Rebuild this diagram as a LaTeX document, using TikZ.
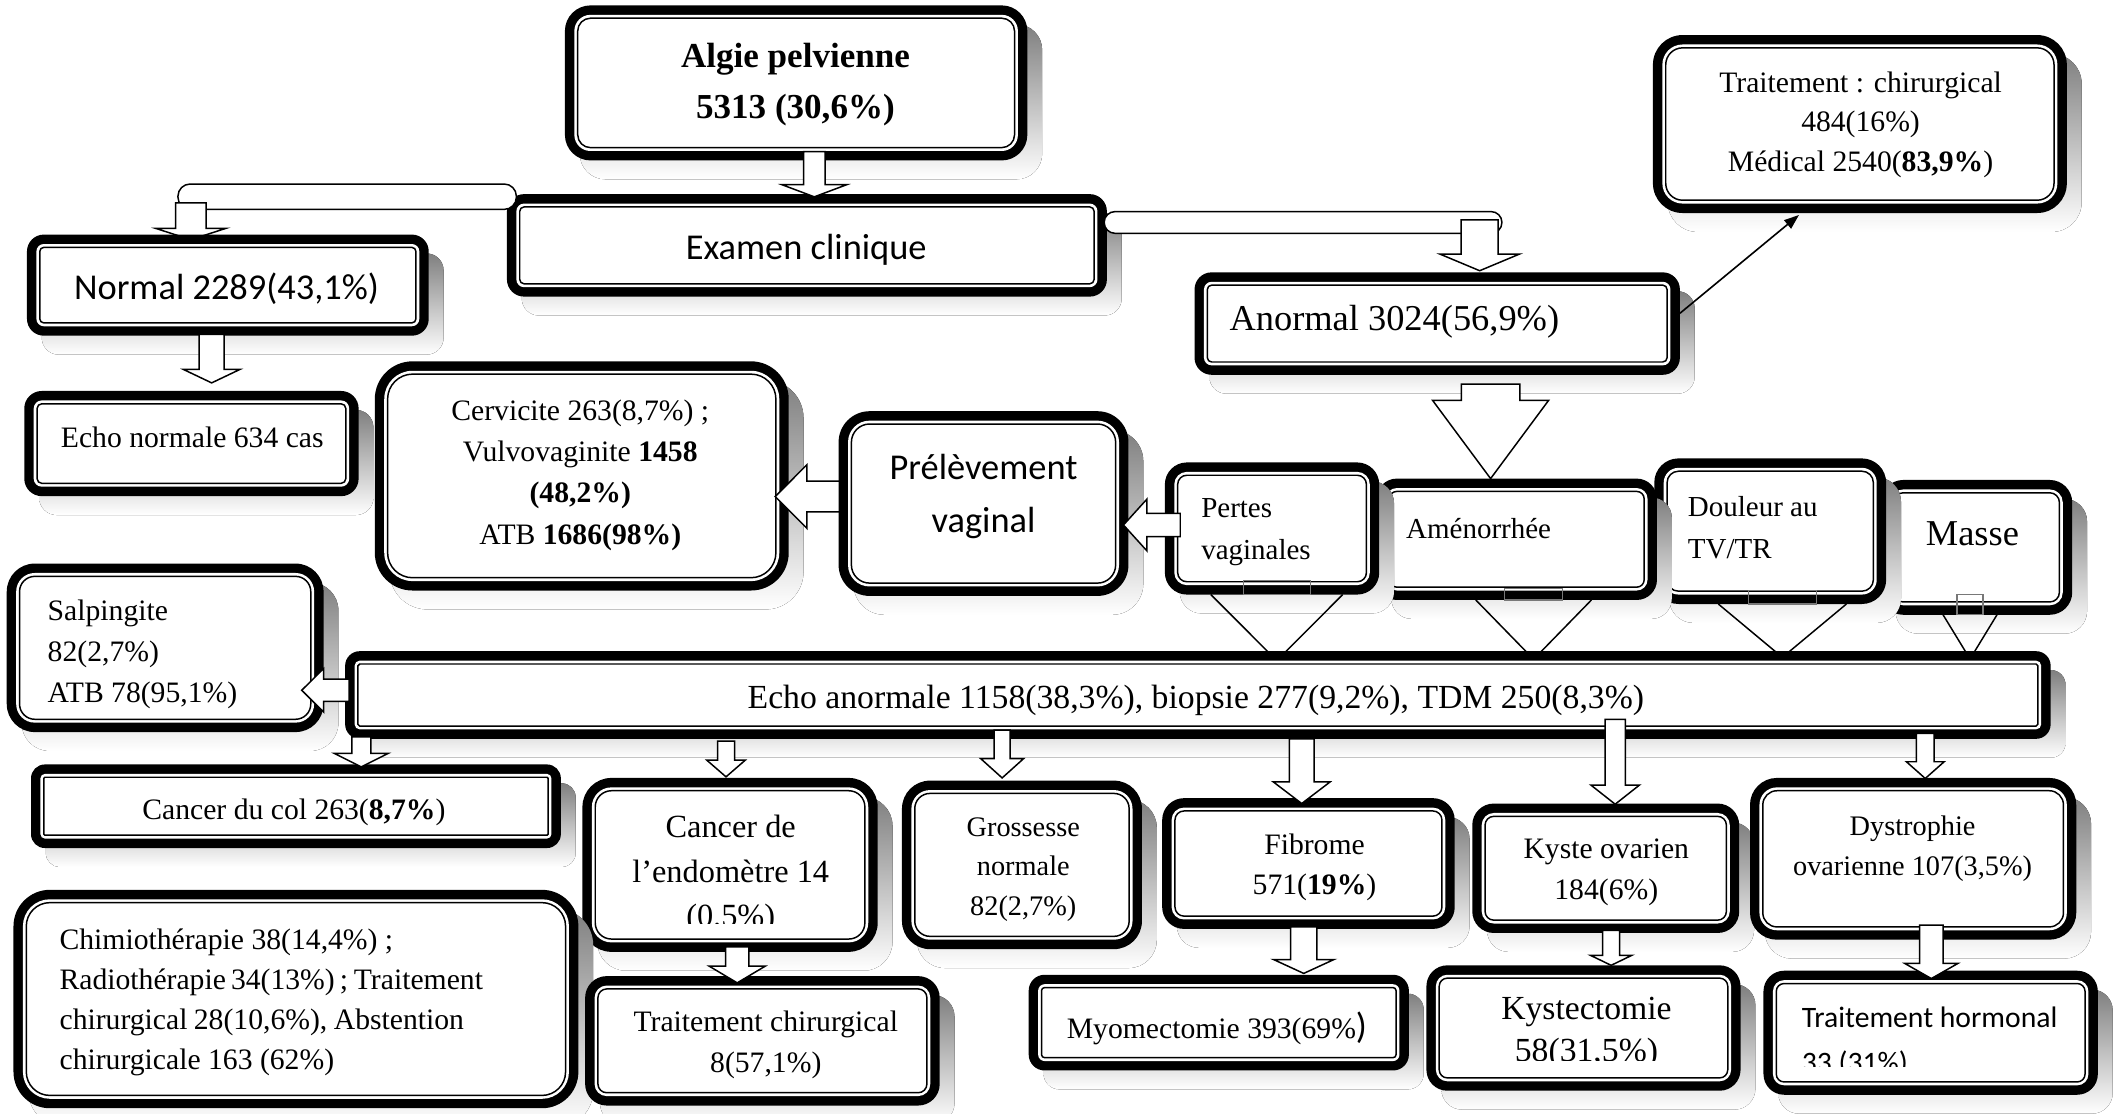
\documentclass[tikz,border=0pt]{standalone}
\usepackage{fontspec}
\setmainfont{Liberation Serif}
\newfontfamily\calib{Carlito}
\usetikzlibrary{calc,arrows.meta}
\definecolor{shade}{RGB}{192,192,192}
\definecolor{tabgray}{RGB}{120,120,120}

% font size helper
\newcommand{\setfs}[2]{\fontsize{#1}{#2}\selectfont}

% invisible node spanning a framed panel (x1,y1,x2,y2, y measured downwards)
\newcommand{\panelnode}[5]{%
  \pgfmathsetmacro{\pw}{#4-#2}%
  \pgfmathsetmacro{\ph}{#5-#3}%
  \node[panelnode, minimum width=\pw pt, minimum height=\ph pt] (#1) at ({(#2+#4)/2},{-(#3+#5)/2}) {};}

% shadow, thick outer frame, white gap and thin inner line of a panel
\newcommand{\paneldraw}[2]{%
  \pgfmathsetmacro{\rB}{max(#2-7,0.5)}%
  \pgfmathsetmacro{\rC}{max(#2-9.5,0.5)}%
  \fill[shade, rounded corners=#2pt] ([shift={(11pt,-14pt)}]#1.north west) rectangle ([shift={(11pt,-14pt)}]#1.south east);
  \fill[black, rounded corners=#2pt] (#1.north west) rectangle (#1.south east);
  \fill[white, rounded corners=\rB pt] ([shift={(7pt,-7pt)}]#1.north west) rectangle ([shift={(-7pt,7pt)}]#1.south east);
  \draw[line width=1.1pt, rounded corners=\rC pt] ([shift={(9.5pt,-9.5pt)}]#1.north west) rectangle ([shift={(-9.5pt,9.5pt)}]#1.south east);}

% downward block arrow: from, to, x centre, start above from.south, tip below to.north, head length, shaft half width, head half width
\newcommand{\dnarrow}[8]{%
  \draw[blk] let \p1=(#1.south), \p2=(#2.north) in
    ({#3-(#7)},{\y1+(#4)}) -- ({#3+(#7)},{\y1+(#4)}) -- ({#3+(#7)},{\y2-(#5)+(#6)}) -- ({#3+(#8)},{\y2-(#5)+(#6)})
    -- (#3,{\y2-(#5)}) -- ({#3-(#8)},{\y2-(#5)+(#6)}) -- ({#3-(#7)},{\y2-(#5)+(#6)}) -- cycle;}

% leftward block arrow: from, to, y centre, start inside from.west, tip past to.east, head length, shaft half, head half
\newcommand{\lfarrow}[8]{%
  \draw[blk] let \p1=(#1.west), \p2=(#2.east) in
    ({\x1+(#4)},{-(#3)+(#7)}) -- ({\x2-(#5)+(#6)},{-(#3)+(#7)}) -- ({\x2-(#5)+(#6)},{-(#3)+(#8)})
    -- ({\x2-(#5)},{-(#3)}) -- ({\x2-(#5)+(#6)},{-(#3)-(#8)}) -- ({\x2-(#5)+(#6)},{-(#3)-(#7)}) -- ({\x1+(#4)},{-(#3)-(#7)}) -- cycle;}

% open arrow head under a symptom panel: from, to, x centre, head half, tip below to.north, tab half, tab height
\newcommand{\vconn}[7]{%
  \draw[vline] let \p1=(#1.south), \p2=(#2.north) in ({#3-(#4)},\y1) -- (#3,{\y2-(#5)}) -- ({#3+(#4)},\y1);
  \draw[tabline] let \p1=(#1.south) in ({#3-(#6)},\y1) rectangle ({#3+(#6)},{\y1+(#7)});}

\begin{document}
\begin{tikzpicture}[x=1pt,y=1pt,
  panelnode/.style={shape=rectangle, inner sep=0pt, outer sep=0pt},
  txt/.style={inner sep=0pt, outer sep=0pt, yshift=-1.5pt},
  blk/.style={draw=black, fill=white, line width=1.1pt, line join=miter},
  vline/.style={draw=black, line width=1.1pt},
  tabline/.style={draw=tabgray, line width=1pt},
  pill/.style={draw=black, fill=white, line width=1.1pt, inner sep=0pt, outer sep=0pt}]
\useasboundingbox (0,0) rectangle (1568,-826);
\fill[white] (0,0) rectangle (1568,-826);

% ---------- panel positions ----------
\panelnode{algie}{419}{4}{762}{119}
\panelnode{examen}{376}{144}{821}{220}
\panelnode{normal}{20}{174}{318}{249}
\panelnode{echonorm}{18}{290}{266}{368}
\panelnode{cervicite}{278}{268}{585}{438}
\panelnode{prelev}{622}{305}{837}{442}
\panelnode{traitchir}{1226}{26}{1533}{158}
\panelnode{anormal}{886}{202}{1246}{278}
\panelnode{pertes}{864}{343}{1023}{441}
\panelnode{amenor}{1021}{355}{1229}{445}
\panelnode{douleur}{1227}{340}{1399}{448}
\panelnode{masse}{1395}{356}{1537}{456}
\panelnode{echo}{256}{483}{1521}{548}
\panelnode{salp}{5}{418}{240}{543}
\panelnode{cancol}{23}{567}{416}{629}
\panelnode{canendo}{432}{577}{651}{706}
\panelnode{gross}{669}{579}{847}{704}
\panelnode{fibrome}{862}{592}{1079}{689}
\panelnode{kyste}{1092}{596}{1290}{692}
\panelnode{dystro}{1298}{577}{1540}{697}
\panelnode{chimio}{10}{660}{429}{822}
\panelnode{traitendo}{434}{724}{697}{820}
\panelnode{myome}{763}{723}{1045}{794}
\panelnode{kystect}{1058}{716}{1291}{809}
\panelnode{hormon}{1308}{720}{1556}{812}

% ---------- top part ----------
\paneldraw{algie}{19}
\paneldraw{examen}{12.7}
\node[pill, rounded corners=9pt, minimum width=251pt, minimum height=18.8pt] (pillL) at (257.5,-145.9) {};
\node[pill, rounded corners=8pt, minimum width=295pt, minimum height=16.1pt] (pillR) at (966.5,-165) {};
\dnarrow{pillL}{normal}{141.5}{4.9}{3.8}{8.4}{11.3}{26}
\dnarrow{pillR}{anormal}{1097.5}{9.9}{-1.2}{12.3}{13.7}{29.4}
\paneldraw{normal}{12.5}
\paneldraw{echonorm}{13}
\paneldraw{traitchir}{22}
\paneldraw{anormal}{12.7}

% ---------- middle row ----------
\paneldraw{cervicite}{28}
\lfarrow{prelev}{cervicite}{368.3}{6}{10}{23.4}{11.4}{23.5}
\paneldraw{prelev}{23}
\paneldraw{masse}{16.7}
\paneldraw{douleur}{18}
\paneldraw{amenor}{15}
\paneldraw{pertes}{16.3}
\lfarrow{pertes}{prelev}{389.4}{11.4}{3.7}{17.4}{8.7}{19.2}

\vconn{pertes}{echo}{947}{48.9}{7}{24.9}{10.2}
\vconn{amenor}{echo}{1137.5}{42.9}{6}{21.5}{8.5}
\vconn{douleur}{echo}{1322}{47.5}{4.6}{25.2}{9.8}
\vconn{masse}{echo}{1461.2}{20}{5.8}{9.7}{15}

\paneldraw{salp}{20.8}
\paneldraw{echo}{10.8}

% ---------- lower rows ----------
\paneldraw{cancol}{10.3}
\paneldraw{canendo}{21.5}
\paneldraw{gross}{20.8}
\paneldraw{fibrome}{16.2}
\paneldraw{kyste}{16}
\paneldraw{dystro}{20}
\paneldraw{chimio}{27}
\paneldraw{traitendo}{16}
\paneldraw{myome}{11.8}
\paneldraw{kystect}{15.5}
\paneldraw{hormon}{15.3}

% ---------- texts ----------
\node[txt, font=\bfseries\setfs{26}{38}, align=center] (algie-t) at (590,-61) {Algie pelvienne\\5313 (30,6\%)};
\node[txt, font=\calib\setfs{27}{32}] (examen-t) at (598,-184) {Examen clinique};
\node[txt, font=\calib\setfs{27}{32}] (normal-t) at (168,-212.5) {Normal 2289(43,1\%)};
\node[txt, font=\setfs{22}{30}] (echonorm-t) at (142.6,-322.7) {Echo normale 634 cas};
\node[txt, font=\setfs{22}{30.5}, align=center] (cervicite-t) at (430.4,-351) {Cervicite 263(8,7\%) ;\\Vulvovaginite \textbf{1458}\\\textbf{(48,2\%)}\\ATB \textbf{1686(98\%)}};
\node[txt, font=\calib\setfs{27}{39}, align=center] (prelev-t) at (729.5,-366.6) {Prélèvement\\vaginal};
\node[txt, font=\setfs{22}{29.5}, align=center] (traitchir-t) at (1380,-91) {Traitement : chirurgical\\484(16\%)\\Médical 2540(\textbf{83,9\%})};
\node[txt, font=\setfs{27}{32}, anchor=west] (anormal-t) at (912,-237.4) {Anormal 3024(56,9\%)};
\node[txt, font=\setfs{21.5}{31}, anchor=west, align=left] (pertes-t) at (891,-393) {Pertes\\vaginales};
\node[txt, font=\setfs{21.5}{31}, anchor=west] (amenor-t) at (1043,-390.5) {Aménorrhée};
\node[txt, font=\setfs{21.5}{31}, anchor=west, align=left] (douleur-t) at (1252,-390) {Douleur au\\TV/TR};
\node[txt, font=\setfs{27}{32}] (masse-t) at (1463,-394.4) {Masse};
\node[txt, font=\setfs{25}{30}] (echo-t) at (887,-518) {Echo anormale 1158(38,3\%), biopsie 277(9,2\%), TDM 250(8,3\%)};
\node[txt, font=\setfs{22}{30.3}, anchor=west, align=left] (salp-t) at (35.4,-484) {Salpingite\\82(2,7\%)\\ATB 78(95,1\%)};
\node[txt, font=\setfs{22}{30}] (cancol-t) at (218,-601) {Cancer du col 263(\textbf{8,7\%})};
\begin{scope}
  \clip (440,-585) rectangle (645,-685);
  \node[txt, font=\setfs{24}{33}, align=center] (canendo-t) at (542,-647) {Cancer de\\l’endomètre 14\\(0.5\%)};
\end{scope}
\node[txt, font=\setfs{21}{29}, align=center] (gross-t) at (759,-643.5) {Grossesse\\normale\\82(2,7\%)};
\node[txt, font=\setfs{22}{30}, align=center] (fibrome-t) at (975,-641.7) {Fibrome\\571(\textbf{19\%})};
\node[txt, font=\setfs{22}{30}, align=center] (kyste-t) at (1191.4,-645.4) {Kyste ovarien\\184(6\%)};
\node[txt, font=\setfs{21}{30}, align=center] (dystro-t) at (1418.6,-628) {Dystrophie\\ovarienne 107(3,5\%)};
\node[txt, font=\setfs{22}{29.5}, anchor=west, align=left] (chimio-t) at (44.2,-742) {Chimiothérapie 38(14,4\%) ;\\\makebox[314pt][s]{Radiothérapie 34(13\%) ; Traitement}\\\makebox[300pt][s]{chirurgical 28(10,6\%), Abstention}\\chirurgicale 163 (62\%)};
\node[txt, font=\setfs{22}{31}, align=center] (traitendo-t) at (568,-773.5) {Traitement chirurgical\\8(57,1\%)};
\node[txt, font=\setfs{22}{30}] (myome-t) at (902.6,-761.6) {Myomectomie 393(69\%{\calib\setfs{27}{27})}};
\begin{scope}
  \clip (1066,-724) rectangle (1285,-786.5);
  \node[txt, font=\setfs{25}{31}, align=center] (kystect-t) at (1176.7,-764.7) {Kystectomie\\58(31,5\%)};
\end{scope}
\begin{scope}
  \clip (1316,-728) rectangle (1548,-791);
  \node[txt, font=\calib\setfs{22}{33.4}, anchor=west, align=left] (hormon-t) at (1336.4,-771) {Traitement hormonal\\33 (31\%)};
\end{scope}

% ---------- block arrows over the frames ----------
\dnarrow{algie}{examen}{604}{6.5}{2}{9}{8}{24}
\dnarrow{normal}{echonorm}{157}{1}{-6}{10}{9.3}{21}
\dnarrow{anormal}{amenor}{1105.6}{-7}{0}{58}{21.7}{43}
\lfarrow{echo}{salp}{512}{3}{16.2}{16.2}{8.2}{16.1}
\dnarrow{echo}{cancol}{268}{1.5}{1.8}{10}{7}{20}
\dnarrow{echo}{canendo}{538.5}{-1.7}{-0.8}{12.4}{6.3}{14.3}
\dnarrow{echo}{gross}{743.3}{6.5}{-2}{14.4}{6}{16}
\dnarrow{echo}{fibrome}{965.5}{0}{4}{16}{9.2}{21}
\dnarrow{echo}{kyste}{1198}{14.4}{0.5}{14.2}{7.5}{18}
\dnarrow{echo}{dystro}{1428}{4}{0.4}{12.4}{6.6}{14}
\dnarrow{canendo}{traitendo}{546.8}{3.7}{5}{12.4}{8.6}{20.8}
\dnarrow{fibrome}{myome}{967}{1.6}{-1}{10.3}{9.7}{22.4}
\dnarrow{kyste}{kystect}{1195}{2}{0}{7.4}{6.3}{15.3}
\dnarrow{dystro}{hormon}{1432.5}{10.8}{5.8}{11.2}{8.7}{19.7}

% thin arrow to the treatment panel
\draw[line width=1.2pt, -{Triangle[length=11pt,width=8pt]}] ([yshift=7.6pt]anormal.east) -- ([xshift=108.3pt,yshift=-1.5pt]traitchir.south west);
\end{tikzpicture}
\end{document}
